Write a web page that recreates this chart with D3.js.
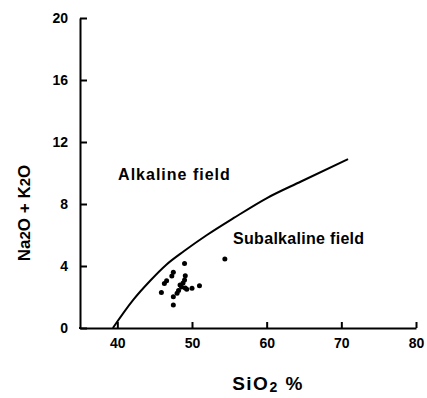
<!DOCTYPE html>
<html>
<head>
<meta charset="utf-8">
<script src="https://cdn.jsdelivr.net/npm/d3@7"></script>
<style>
  html, body { margin: 0; padding: 0; background: #fff; }
  svg { display: block; }
  text { font-family: "Liberation Sans", Arial, sans-serif; font-weight: bold; fill: #000; }
</style>
</head>
<body>
<svg id="chart" width="427" height="398"></svg>
<script>
// ---- data ----
const xTicks = [40, 50, 60, 70, 80];
const yTicks = [0, 4, 8, 12, 16, 20];

// dividing curve (Alkaline / Subalkaline boundary)
const curveSiO2 = [39.4, 42.1, 44.4, 46.6, 48.9, 52.0, 55.6, 60.1, 64.6, 70.9];
const curveAlk  = [0.0, 1.8, 3.05, 4.1, 4.95, 6.0, 7.1, 8.4, 9.45, 10.9];

// samples
const sampleSiO2 = [49.0, 47.5, 47.3, 46.6, 46.3, 45.9, 49.1, 48.8, 48.6, 48.2,
                    48.0, 47.5, 47.5, 49.1, 49.3, 50.0, 51.0, 54.4, 49.0, 48.4];
const sampleAlk  = [4.16, 3.59, 3.35, 3.05, 2.87, 2.29, 3.37, 2.90, 2.65, 2.42,
                    2.24, 2.02, 1.48, 2.58, 2.50, 2.56, 2.73, 4.45, 3.10, 2.77];

const fieldLabels = [
  { text: "Alkaline field", sio2: 40.1, alk: 9.55, spacing: 1.0 },
  { text: "Subalkaline field", sio2: 55.5, alk: 5.42, spacing: 0.3 }
];

// ---- chart ----
const svg = d3.select("#chart");
const x = d3.scaleLinear().domain([35, 80]).range([80, 416]);
const y = d3.scaleLinear().domain([0, 20]).range([328, 18]);

const ax = svg.append("g").attr("transform", "translate(0,328)")
  .call(d3.axisBottom(x).tickValues(xTicks).tickSizeInner(-6).tickSizeOuter(0).tickPadding(10).tickFormat(d3.format("d")));
const ay = svg.append("g").attr("transform", "translate(80,0)")
  .call(d3.axisLeft(y).tickValues(yTicks).tickSizeInner(-7).tickSizeOuter(0).tickPadding(12).tickFormat(d3.format("d")));

[ax, ay].forEach(g => {
  g.select(".domain").attr("stroke", "#000").attr("stroke-width", 2);
  g.selectAll(".tick line").attr("stroke", "#000").attr("stroke-width", 2);
  g.selectAll(".tick text").style("font-size", "14px").attr("fill", "#000");
});
svg.append("line").attr("x1", 79).attr("x2", 81).attr("y1", 328).attr("y2", 328).attr("stroke", "#000").attr("stroke-width", 2);

// curve
const pts = curveSiO2.map((s, i) => [s, curveAlk[i]]);
svg.append("path")
  .datum(pts)
  .attr("fill", "none")
  .attr("stroke", "#000")
  .attr("stroke-width", 2)
  .attr("d", d3.line().x(d => x(d[0])).y(d => y(d[1])).curve(d3.curveMonotoneX));

// samples
svg.append("g").selectAll("circle")
  .data(sampleSiO2.map((s, i) => [s, sampleAlk[i]]))
  .join("circle")
  .attr("cx", d => x(d[0]))
  .attr("cy", d => y(d[1]))
  .attr("r", 2.5)
  .attr("fill", "#000");

// field labels
svg.append("g").selectAll("text")
  .data(fieldLabels)
  .join("text")
  .attr("x", d => x(d.sio2))
  .attr("y", d => y(d.alk))
  .style("font-size", "16px")
  .style("letter-spacing", d => d.spacing + "px")
  .text(d => d.text);

// axis titles
const xt = svg.append("text").attr("x", 268).attr("y", 390).attr("text-anchor", "middle")
  .style("font-size", "19px").style("letter-spacing", "1.5px");
xt.append("tspan").text("SiO");
xt.append("tspan").attr("dy", 2).style("font-size", "14px").text("2");
xt.append("tspan").attr("dy", -2).text(" %");

const yt = svg.append("text").attr("transform", "translate(30,213) rotate(-90)").attr("text-anchor", "middle").style("font-size", "17px");
yt.append("tspan").text("Na");
yt.append("tspan").style("font-size", "15px").text("2");
yt.append("tspan").text("O + K");
yt.append("tspan").style("font-size", "15px").text("2");
yt.append("tspan").text("O");
</script>
</body>
</html>
